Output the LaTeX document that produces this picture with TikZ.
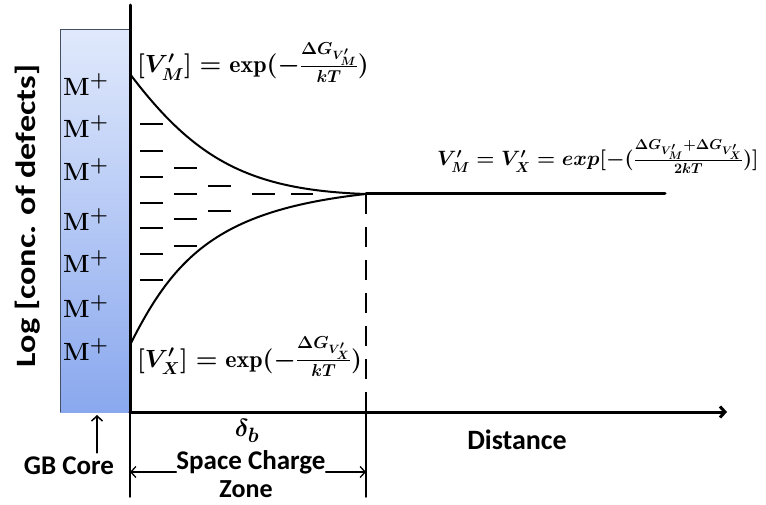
\documentclass[tikz,border=0pt]{standalone}
\usepackage{amsmath,amssymb,bm}
\usepackage{fontspec}
\setsansfont{Carlito}
\usetikzlibrary{arrows.meta}
\definecolor{gbtop}{RGB}{224,233,252}
\definecolor{gbbot}{RGB}{138,168,238}
\definecolor{gbline}{RGB}{70,80,100}
\begin{document}
\begin{tikzpicture}[line cap=round,line join=round,>={Straight Barb[length=5pt,width=11pt]},x=1pt,y=-1pt,
    mplus/.style={anchor=west,inner sep=0pt,font=\boldmath\fontsize{28}{28}\selectfont},
    eqn/.style={anchor=base west,inner sep=0pt,font=\boldmath\fontsize{24}{24}\selectfont},
    lbl/.style={inner sep=0pt,font=\sffamily\bfseries\fontsize{27}{27}\selectfont},
    axis/.style={line width=3pt},
    minus/.style={line width=2.5pt,line cap=butt}]
		\useasboundingbox (0,0) rectangle (766,505);

		% GB core
		\shade[top color=gbtop,bottom color=gbbot] (60,30) rectangle (130,412);
		\draw[gbline,line width=1pt] (60,412) -- (60,30) -- (130,30);
		\foreach \y [count=\i] in {85,127,170,220,262,307,350}
			\node[mplus] (m\i) at (63,\y) {$\mathbf{M}^{+}$};

		% axes
		\coordinate (O) at (130,412);
		\coordinate (ytop) at (130,5);
		\coordinate (xend) at (727,412);
		\draw[axis] (O) -- (ytop);
		\draw[axis,->] (O) -- (xend);
		\node[lbl,rotate=90,font=\sffamily\bfseries\fontsize{28}{28}\selectfont] (ylab) at (28,216) {\scalebox{1.22}[1]{Log [conc. of defects]}};
		\node[lbl,font=\sffamily\bfseries\fontsize{28}{28}\selectfont] (dist) at (517,440) {Distance};

		% curves
		\coordinate (vm) at (130,74);
		\coordinate (vx) at (130,345);
		\coordinate (J) at (366,194);
		\coordinate (bulk) at (665,194);
		\draw[line width=2pt] (vm) .. controls (195,160) and (250,190) .. (J);
		\draw[line width=2pt] (vx) .. controls (175,255) and (220,210) .. (J);
		\draw[axis] (J) -- (bulk);

		% negative charges
		\foreach \y in {124,151,177,203,228,254,280}
			\draw[minus] (140,\y) -- (163,\y);
		\foreach \y in {168,194,219,246}
			\draw[minus] (174,\y) -- (197,\y);
		\foreach \y in {186,211}
			\draw[minus] (208,\y) -- (231,\y);
		\draw[minus] (252,194) -- (275,194);
		\draw[minus] (291,194) -- (313,194);

		% space charge boundary
		\coordinate (Jb) at (366,412);
		\coordinate (Jlow) at (366,497);
		\coordinate (Olow) at (130,497);
		\draw[line width=2.5pt,line cap=butt,dash pattern=on 20pt off 13pt] (J) -- (Jb);
		\draw[line width=1.5pt] (Jb) -- (Jlow);
		\draw[line width=1.5pt] (O) -- (Olow);

		% labels of the concentrations
		\node[eqn] (eqm) at (137,73) {$[\boldsymbol{V'_M}] = \mathrm{exp}(-\frac{\Delta G_{\boldsymbol{V'_M}}}{\boldsymbol{kT}})$};
		\node[eqn] (eqx) at (137,367) {$[\boldsymbol{V'_X}] = \mathrm{exp}(-\frac{\Delta G_{\boldsymbol{V'_X}}}{\boldsymbol{kT}})$};
		\node[eqn,font=\boldmath\fontsize{21}{21}\selectfont] (eqb) at (437,166) {$V'_M = V'_X = exp[-(\frac{\Delta G_{V'_M}+\Delta G_{V'_X}}{2kT})]$};

		% bottom labels
		\node[font=\boldmath\fontsize{28}{28}\selectfont,inner sep=0pt] (delta) at (247,431) {$\delta_b$};
		\node[lbl] (scz) at (251,462) {Space Charge};
		\node[lbl,font=\sffamily\bfseries\fontsize{26}{26}\selectfont] (zone) at (246,489) {Zone};
		\coordinate (sl) at (130,472);
		\coordinate (sr) at (366,472);
		\draw[line width=1.3pt,->] (scz.west |- sl) -- (sl);
		\draw[line width=1.3pt,->] (scz.east |- sr) -- (sr);
		\node[lbl] (gb) at (69,466) {GB Core};
		\coordinate (gbtip) at (97,415);
		\draw[line width=1.5pt,->] (gb.north -| gbtip) ++(0,-4) -- (gbtip);
\end{tikzpicture}
\end{document}
